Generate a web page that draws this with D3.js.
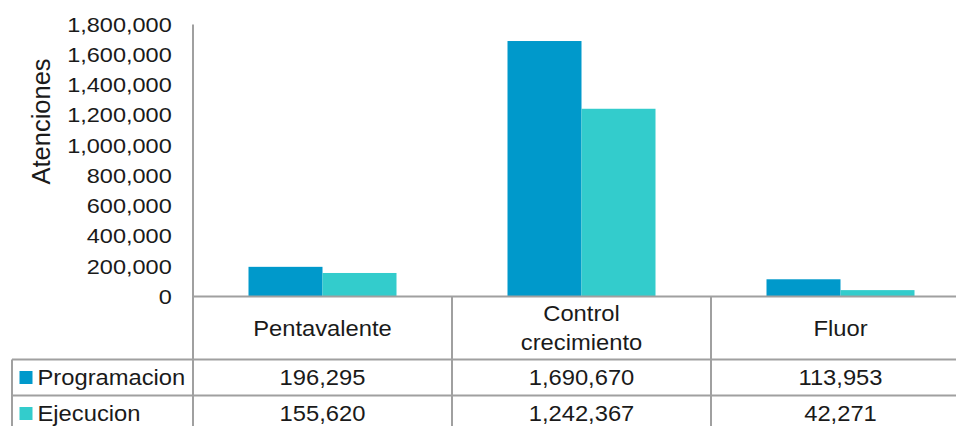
<!DOCTYPE html>
<html>
<head>
<meta charset="utf-8">
<script src="https://cdn.jsdelivr.net/npm/d3@7"></script>
<style>
  html, body { margin: 0; padding: 0; background: #fff; }
  svg { display: block; font-family: "Liberation Sans", Arial, sans-serif; }
</style>
</head>
<body>
<svg id="chart" width="956" height="426"></svg>
<script>
// Atenciones por tipo: programación vs. ejecución
const categories = [["Pentavalente"], ["Control", "crecimiento"], ["Fluor"]];
const seriesNames = ["Programacion", "Ejecucion"];
const programacion = [196295, 1690670, 113953];
const ejecucion = [155620, 1242367, 42271];
const yTicks = [0, 200000, 400000, 600000, 800000, 1000000, 1200000, 1400000, 1600000, 1800000];

const colors = ["#0099CB", "#33CCCC"];
const gridColor = "#a0a0a0";
const textColor = "#1a1a1a";

const svg = d3.select("#chart");
const W = 956, H = 426;
const plot = { left: 193, right: 970, top: 24.5, bottom: 296.5 };
const rowY = [296.5, 359.5, 395.5];   // table row boundaries
const tableLeft = 12;

// the typeface in this layout is drawn slightly wide
const tickStretch = 1.12, tableStretch = 1.08;
const fs = 22;

const catKeys = categories.map(c => c.join(" "));
const x = d3.scaleBand().domain(catKeys).range([plot.left, plot.right]).paddingInner(0).paddingOuter(0);
const inner = d3.scaleBand().domain(seriesNames).range([0, x.bandwidth()]).paddingInner(0).paddingOuter(0.75);
const y = d3.scaleLinear().domain([0, 1800000]).range([plot.bottom, plot.top]);

const values = [programacion, ejecucion];

// bars
const g = svg.append("g");
seriesNames.forEach((s, si) => {
  g.selectAll(".bar-" + si)
    .data(values[si])
    .join("rect")
    .attr("x", (d, i) => x(catKeys[i]) + inner(s))
    .attr("width", inner.bandwidth())
    .attr("y", d => y(d))
    .attr("height", d => y(0) - y(d))
    .attr("fill", colors[si]);
});

// y axis labels
const yAxis = d3.axisLeft(y).tickValues(yTicks).tickSize(0).tickPadding(19)
  .tickFormat(d3.format(","));
const ya = svg.append("g").attr("transform", `translate(${plot.left},0)`).call(yAxis);
ya.select(".domain").remove();
ya.selectAll("text").attr("font-size", 21).attr("fill", textColor)
  .attr("font-family", "'Liberation Sans', Arial, sans-serif")
  .attr("transform", `scale(${tickStretch},1)`);

// axis title
svg.append("text")
  .attr("transform", `translate(50,${(plot.top + plot.bottom) / 2 - 39}) rotate(-90)`)
  .attr("text-anchor", "middle")
  .attr("font-size", 25.5)
  .attr("fill", textColor)
  .text("Atenciones");

// helper for table text
function label(px, py, t, anchor) {
  svg.append("text")
    .attr("transform", `translate(${px},${py}) scale(${tableStretch},1)`)
    .attr("dy", "0.36em")
    .attr("text-anchor", anchor)
    .attr("font-size", fs)
    .attr("fill", textColor)
    .text(t);
}

// table grid lines
const lines = svg.append("g").attr("stroke", gridColor).attr("stroke-width", 2).attr("fill", "none");
lines.append("line").attr("x1", plot.left).attr("x2", plot.left).attr("y1", plot.top).attr("y2", H);
catKeys.slice(1).forEach(k => {
  lines.append("line").attr("x1", x(k)).attr("x2", x(k)).attr("y1", rowY[0]).attr("y2", H);
});
lines.append("line").attr("x1", plot.right).attr("x2", plot.right).attr("y1", rowY[0]).attr("y2", H);
lines.append("line").attr("x1", plot.left).attr("x2", W).attr("y1", rowY[0]).attr("y2", rowY[0]);
lines.append("line").attr("x1", tableLeft).attr("x2", W).attr("y1", rowY[1]).attr("y2", rowY[1]);
lines.append("line").attr("x1", tableLeft).attr("x2", W).attr("y1", rowY[2]).attr("y2", rowY[2]);
lines.append("line").attr("x1", tableLeft).attr("x2", tableLeft).attr("y1", rowY[1]).attr("y2", H);

// category headers
categories.forEach((parts, i) => {
  const cx = x(catKeys[i]) + x.bandwidth() / 2;
  const cy = (rowY[0] + rowY[1]) / 2;
  const lh = 29;
  parts.forEach((t, j) => label(cx, cy + (j - (parts.length - 1) / 2) * lh, t, "middle"));
});

// value rows with legend keys
const rowCenters = [(rowY[1] + rowY[2]) / 2, rowY[2] + 18];
seriesNames.forEach((s, si) => {
  const cy = rowCenters[si];
  svg.append("rect")
    .attr("x", 19.5).attr("y", cy - 6.5).attr("width", 13).attr("height", 13)
    .attr("fill", colors[si]);
  label(37.5, cy, s, "start");
  values[si].forEach((v, i) => {
    label(x(catKeys[i]) + x.bandwidth() / 2, cy, d3.format(",")(v), "middle");
  });
});
</script>
</body>
</html>
